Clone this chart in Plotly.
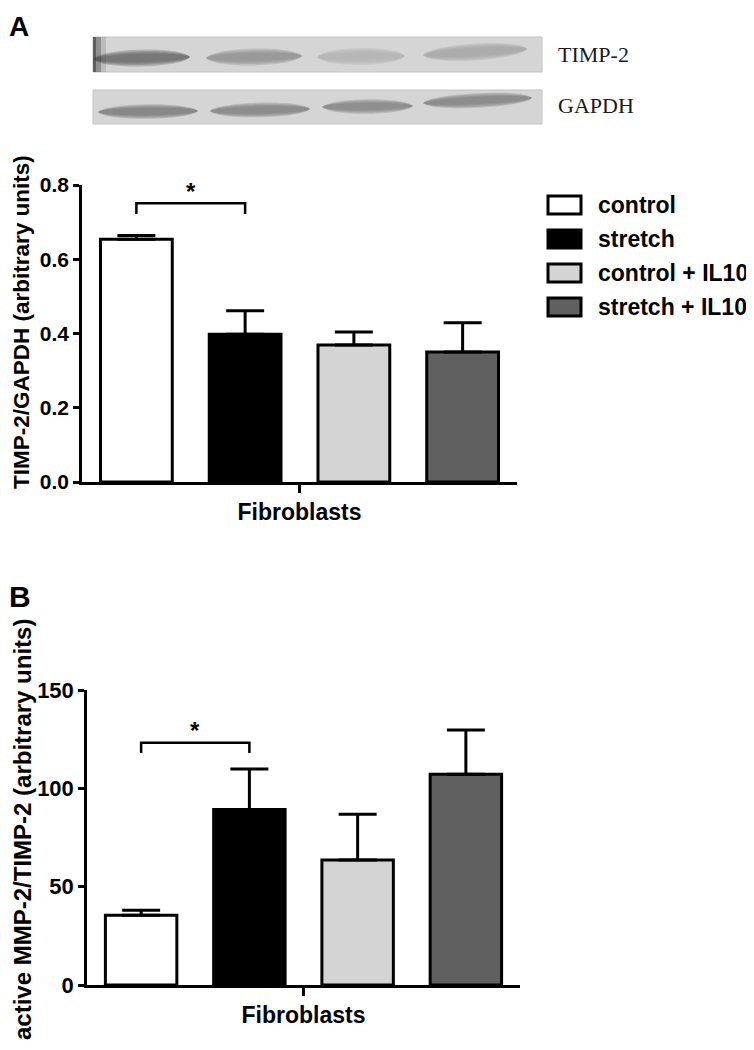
import plotly.graph_objects as go

# the page adds an 8px body margin, so the figure is 8px smaller than the window
OFF = 8
W, H = 754 - OFF, 1050 - OFF

# ---------------- data ----------------
group = "Fibroblasts"
conditions = ["control", "stretch", "control + IL10", "stretch + IL10"]
colors = ["#ffffff", "#000000", "#d4d4d4", "#606060"]

timp_values = [0.654, 0.398, 0.369, 0.350]
timp_errors = [0.010, 0.063, 0.035, 0.079]

ratio_values = [35.5, 89.3, 63.5, 107.1]
ratio_errors = [2.5, 20.5, 23.3, 22.5]

timp_ticks = [0.0, 0.2, 0.4, 0.6, 0.8]
ratio_ticks = [0, 50, 100, 150]

# significance: bracket between control and stretch
sig_A = dict(y=0.751, drop=0.029)
sig_B = dict(y=123.2, drop=5.2)

# western blot (band darkness per lane, 0=white..1=black)
blot_labels = ["TIMP-2", "GAPDH"]
timp_band = [0.66, 0.48, 0.32, 0.38]
gapdh_band = [0.58, 0.55, 0.53, 0.55]


def px(x):
    return (x - OFF) / W


def py(y):
    return 1 - (y - OFF) / H


FONT = "Liberation Sans, Arial, sans-serif"

fig = go.Figure()

for i, (c, col) in enumerate(zip(conditions, colors)):
    fig.add_trace(go.Bar(
        x=[group], y=[timp_values[i]], name=c, xaxis="x", yaxis="y",
        marker=dict(color=col, line=dict(color="black", width=3)),
        error_y=dict(type="data", array=[timp_errors[i]], arrayminus=[0], symmetric=False,
                     color="black", thickness=3, width=19),
        showlegend=False, offsetgroup=str(i)))
    fig.add_trace(go.Bar(
        x=[group], y=[ratio_values[i]], name=c, xaxis="x2", yaxis="y2",
        marker=dict(color=col, line=dict(color="black", width=3)),
        error_y=dict(type="data", array=[ratio_errors[i]], arrayminus=[0], symmetric=False,
                     color="black", thickness=3, width=19),
        showlegend=False, offsetgroup=str(i)))

axis_common = dict(showline=True, linecolor="black", linewidth=2.5, ticks="outside",
                   tickcolor="black", tickwidth=2.5, showgrid=False, zeroline=False,
                   automargin=False)
ytickfont_A = dict(family=FONT, size=21, color="black", weight="bold")
ytickfont_B = dict(family=FONT, size=22, color="black", weight="bold")
xtickfont = dict(family=FONT, size=23, color="black", weight="bold")

fig.update_layout(
    width=W, height=H, margin=dict(l=0, r=0, t=0, b=0, pad=0, autoexpand=False),
    paper_bgcolor="white", plot_bgcolor="white", showlegend=False,
    barmode="group", bargap=0.0, bargroupgap=0.34,
    xaxis=dict(domain=[px(82), px(517)], anchor="y", ticklen=8, tickfont=xtickfont, **axis_common),
    yaxis=dict(domain=[py(482), py(185)], anchor="x", range=[0, 0.8], tickfont=ytickfont_A,
               tickvals=timp_ticks, tickformat=".1f", ticklen=6, **axis_common),
    xaxis2=dict(domain=[px(87), px(520)], anchor="y2", ticklen=8, tickfont=xtickfont, **axis_common),
    yaxis2=dict(domain=[py(985), py(690)], anchor="x2", range=[0, 150], tickfont=ytickfont_B,
                tickvals=ratio_ticks, ticklen=6, **axis_common),
)

shapes = []
annotations = []


def label(x, y, text, size, xanchor="center", angle=0, family=FONT, weight="bold", color="black"):
    annotations.append(dict(xref="paper", yref="paper", x=px(x), y=py(y), text=text,
                            xanchor=xanchor, yanchor="middle", textangle=angle, showarrow=False,
                            font=dict(family=family, size=size, color=color, weight=weight)))


# significance brackets (bar centres for control and stretch)
slot = 1.0 / len(conditions)
c0 = -0.5 + slot * 0.5
c1 = c0 + slot
for xr, yr, s in [("x", "y", sig_A), ("x2", "y2", sig_B)]:
    shapes.append(dict(type="path", xref=xr, yref=yr,
                       path=f"M {c0},{s['y'] - s['drop']} L {c0},{s['y']} L {c1},{s['y']} L {c1},{s['y'] - s['drop']}",
                       line=dict(color="black", width=2.5)))
    annotations.append(dict(xref=xr, yref=yr, x=(c0 + c1) / 2, y=s["y"], yshift=12,
                            xanchor="center", yanchor="middle",
                            text="*", showarrow=False,
                            font=dict(family=FONT, size=24, color="black", weight="bold")))

# y axis titles
label(22, 322, "TIMP-2/GAPDH (arbitrary units)", 22.5, angle=-90)
label(22, 830, "active MMP-2/TIMP-2 (arbitrary units)", 24, angle=-90)

# panel letters
label(19, 27, "A", 28)
label(20, 596, "B", 30)

# legend (manual, boxes like the original)
leg_y = [205, 239, 273, 307]
for i, c in enumerate(conditions):
    y0, y1 = leg_y[i] - 9, leg_y[i] + 9
    shapes.append(dict(type="rect", xref="paper", yref="paper",
                       x0=px(548), x1=px(581), y0=py(y1), y1=py(y0),
                       fillcolor=colors[i], line=dict(color="black", width=3)))
    label(596, leg_y[i], c, 23, xanchor="left")


# western blot panels
def gray(v):
    g = int(round(255 * (1 - v)))
    return f"rgb({g},{g},{g})"


def band(x0, x1, yl, yr, h, dark, layers=4):
    out = []
    for k in range(layers):
        f = 1 - k / layers
        hh = h * (0.5 + f)
        path = (f"M {px(x0)},{py(yl)} "
                f"C {px(x0 + 8)},{py(yl - hh)} {px(x1 - 8)},{py(yr - hh)} {px(x1)},{py(yr)} "
                f"C {px(x1 - 8)},{py(yr + hh)} {px(x0 + 8)},{py(yl + hh)} {px(x0)},{py(yl)} Z")
        out.append(dict(type="path", xref="paper", yref="paper", path=path,
                        fillcolor=gray(dark), opacity=0.28, line=dict(width=0)))
    return out


blots = [
    dict(y0=37, y1=72, label_y=54,
         lanes=[(93, 190, 59, 57), (206, 302, 58, 56), (317, 405, 57, 56), (423, 527, 55, 49)],
         dark=timp_band, h=7.5),
    dict(y0=90, y1=124, label_y=105,
         lanes=[(98, 198, 112, 111), (210, 310, 111, 109), (322, 413, 107, 106), (423, 532, 103, 98)],
         dark=gapdh_band, h=6.5),
]
for b, lab in zip(blots, blot_labels):
    shapes.append(dict(type="rect", xref="paper", yref="paper",
                       x0=px(93), x1=px(542), y0=py(b["y1"]), y1=py(b["y0"]),
                       fillcolor="#d5d5d5", line=dict(color="#c4c4c4", width=1)))
    for (x0, x1, yl, yr), d in zip(b["lanes"], b["dark"]):
        shapes.extend(band(x0, x1, yl, yr, b["h"], d))
    label(556, b["label_y"], lab, 22, xanchor="left",
          family="Liberation Serif, Times New Roman, serif", weight="normal", color="#1a1a1a")

# dark left edge of the TIMP-2 blot
for k, op in enumerate([0.5, 0.3, 0.15]):
    shapes.append(dict(type="rect", xref="paper", yref="paper",
                       x0=px(93), x1=px(96 + 5 * k), y0=py(72), y1=py(37),
                       fillcolor="#303030", opacity=op, line=dict(width=0)))

fig.update_layout(shapes=shapes, annotations=annotations)
fig.write_html("out.html")
